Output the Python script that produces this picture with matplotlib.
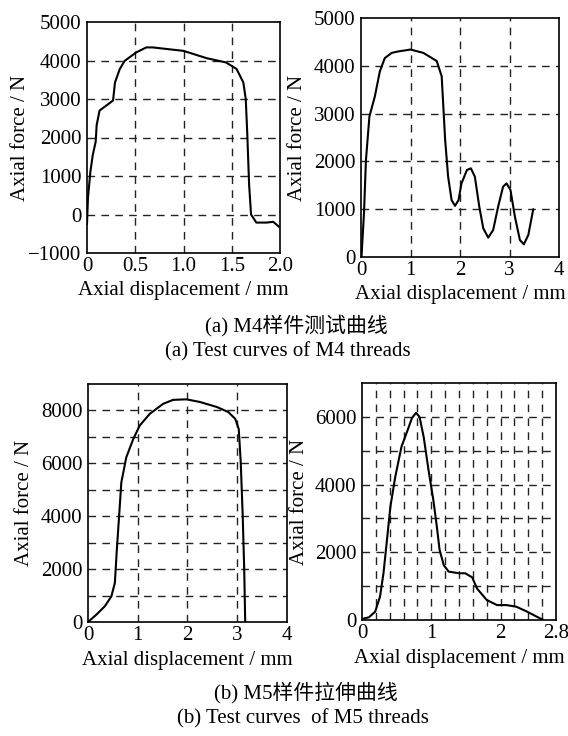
import matplotlib
matplotlib.use("Agg")
import matplotlib.pyplot as plt

plt.rcParams['font.family'] = ['Liberation Serif', 'Noto Sans CJK SC']

# ---- data ----
m4a_x = [0, 0.01, 0.035, 0.06, 0.09, 0.10, 0.13, 0.2, 0.27, 0.29, 0.34, 0.39, 0.51, 0.615,
         0.68, 1.0, 1.24, 1.44, 1.55, 1.62, 1.645, 1.66, 1.68, 1.70, 1.755, 1.86, 1.93, 2.0]
m4a_y = [-250, 430, 1110, 1550, 1890, 2320, 2700, 2830, 2960, 3430, 3780, 3990, 4210, 4340,
         4340, 4250, 4060, 3950, 3780, 3430, 3000, 2150, 770, 0, -210, -210, -190, -340]

m4b_x = [0.01, 0.06, 0.10, 0.17, 0.28, 0.38, 0.48, 0.62, 0.75, 1.0, 1.26, 1.53, 1.63, 1.70,
         1.76, 1.83, 1.90, 1.97, 2.03, 2.14, 2.22, 2.30, 2.39, 2.47, 2.57, 2.67, 2.77, 2.87,
         2.94, 3.02, 3.11, 3.21, 3.29, 3.38, 3.45, 3.48]
m4b_y = [0, 910, 2030, 2940, 3360, 3880, 4160, 4270, 4300, 4340, 4270, 4100, 3780, 2450,
         1680, 1190, 1070, 1190, 1540, 1820, 1855, 1680, 1050, 600, 405, 565, 1050, 1470,
         1540, 1400, 840, 355, 265, 460, 840, 1000]

m5a_x = [0, 0.17, 0.34, 0.47, 0.54, 0.58, 0.63, 0.67, 0.77, 0.91, 1.04, 1.24, 1.51, 1.71,
         1.98, 2.25, 2.59, 2.82, 2.96, 3.03, 3.07, 3.11, 3.14, 3.16]
m5a_y = [0, 280, 600, 970, 1480, 2750, 4140, 5280, 6230, 6920, 7430, 7870, 8250, 8400,
         8420, 8320, 8130, 7940, 7680, 7300, 6040, 4010, 1990, 0]

m5b_x = [0, 0.10, 0.19, 0.26, 0.31, 0.36, 0.41, 0.48, 0.57, 0.65, 0.72, 0.78, 0.83, 0.89,
         0.96, 1.03, 1.08, 1.12, 1.18, 1.25, 1.40, 1.49, 1.59, 1.66, 1.80, 1.95, 2.09, 2.23,
         2.38, 2.52, 2.62]
m5b_y = [30, 80, 245, 690, 1380, 2360, 3350, 4230, 5120, 5560, 5960, 6120, 6000, 5410,
         4430, 3540, 2760, 2070, 1620, 1430, 1380, 1380, 1260, 930, 590, 440, 440, 390,
         250, 100, 0]

xlabel = "Axial displacement / mm"
ylabel = "Axial force / N"
cap_a1 = "(a) M4样件测试曲线"
cap_a2 = "(a) Test curves of M4 threads"
cap_b1 = "(b) M5样件拉伸曲线"
cap_b2 = "(b) Test curves  of M5 threads"

W, H = 568, 736
fig = plt.figure(figsize=(W / 100, H / 100), dpi=100)


def add_ax(l, r, t, b):
    return fig.add_axes([l / W, 1 - b / H, (r - l) / W, (b - t) / H])


def style(ax, l, r, t, b, ylab_x, xlim, ylim, xticks, xticklabels, yticks, yticklabels,
          xgrid, ygrid):
    ax.set_xlim(*xlim)
    ax.set_ylim(*ylim)
    ax.set_xticks(xticks)
    ax.set_xticklabels(xticklabels)
    ax.set_yticks(yticks)
    ax.set_yticklabels(yticklabels)
    ax.tick_params(length=0, labelsize=15)
    ax.tick_params(axis='x', pad=3)
    ax.tick_params(axis='y', pad=4)
    for g in xgrid:
        ax.axvline(g, color='#222222', lw=1.0, ls=(0, (5.5, 4.5)), zorder=1)
    for g in ygrid:
        ax.axhline(g, color='#222222', lw=1.0, ls=(0, (5.5, 4.5)), zorder=1)
    for s in ax.spines.values():
        s.set_linewidth(1.2)
    ax.set_xlabel(xlabel, fontsize=15)
    ax.set_ylabel(ylabel, fontsize=15)
    ax.xaxis.set_label_coords(0.5, -38 / (b - t))
    ax.yaxis.set_label_coords((ylab_x - l) / (r - l), 0.5)
    ax.xaxis.label.set_va('center')
    ax.yaxis.label.set_va('center')


def draw(ax, x, y):
    ax.plot(x, y, color='black', lw=1.5, zorder=3, solid_joinstyle='round',
            solid_capstyle='round')


# Panel (a) left
L = (87, 280, 22, 253)
ax1 = add_ax(*L)
draw(ax1, m4a_x, m4a_y)
style(ax1, *L, 21, (0, 2.0), (-1000, 5000), [0, 0.5, 1.0, 1.5, 2.0],
      ["0", "0.5", "1.0", "1.5", "2.0"],
      [-1000, 0, 1000, 2000, 3000, 4000, 5000],
      ["−1000", "0", "1000", "2000", "3000", "4000", "5000"],
      [0.5, 1.0, 1.5], [0, 1000, 2000, 3000, 4000])

# Panel (a) right
L = (361, 559, 18, 257)
ax2 = add_ax(*L)
draw(ax2, m4b_x, m4b_y)
style(ax2, *L, 298, (0, 4), (0, 5000), [0, 1, 2, 3, 4], ["0", "1", "2", "3", "4"],
      [0, 1000, 2000, 3000, 4000, 5000], ["0", "1000", "2000", "3000", "4000", "5000"],
      [1, 2, 3], [1000, 2000, 3000, 4000])

# Panel (b) left
L = (88, 287, 384, 622)
ax3 = add_ax(*L)
draw(ax3, m5a_x, m5a_y)
style(ax3, *L, 24, (0, 4), (0, 9000), [0, 1, 2, 3, 4], ["0", "1", "2", "3", "4"],
      [0, 2000, 4000, 6000, 8000], ["0", "2000", "4000", "6000", "8000"],
      [1, 2, 3], [1000, 2000, 3000, 4000, 5000, 6000, 7000, 8000])

# Panel (b) right
L = (362, 556, 383, 620)
ax4 = add_ax(*L)
draw(ax4, m5b_x, m5b_y)
style(ax4, *L, 300, (0, 2.8), (0, 7000), [0, 1, 2, 2.8], ["0", "1", "2", "2.8"],
      [0, 2000, 4000, 6000], ["0", "2000", "4000", "6000"],
      [0.2 * i for i in range(1, 14)], [1000, 2000, 3000, 4000, 5000, 6000])

# captions
fig.text(296 / W, 1 - 326 / H, cap_a1, ha='center', va='center', fontsize=15)
fig.text(288 / W, 1 - 352 / H, cap_a2, ha='center', va='center', fontsize=15)
fig.text(306 / W, 1 - 693 / H, cap_b1, ha='center', va='center', fontsize=15)
fig.text(303 / W, 1 - 719 / H, cap_b2, ha='center', va='center', fontsize=15)

fig.savefig("out.png", dpi=100)
